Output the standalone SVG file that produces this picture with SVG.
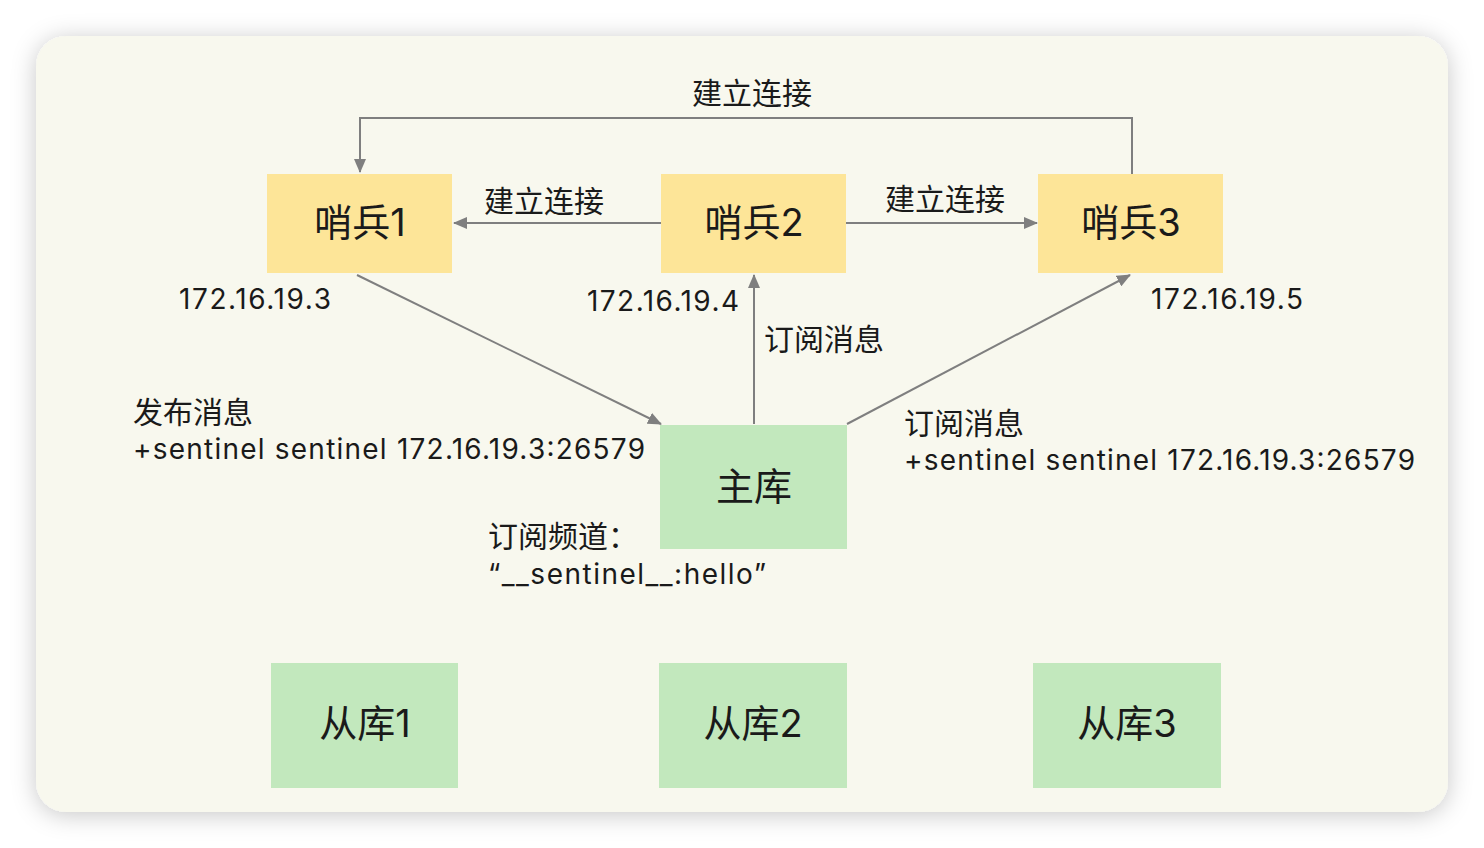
<svg xmlns="http://www.w3.org/2000/svg" width="1484" height="848" viewBox="0 0 1484 848">
<defs>
<filter id="sh" x="-10%" y="-10%" width="120%" height="120%">
<feDropShadow dx="0" dy="3" stdDeviation="12" flood-color="#000" flood-opacity="0.22"/>
</filter>
<marker id="ah" markerUnits="userSpaceOnUse" markerWidth="14" markerHeight="12" refX="13" refY="6" orient="auto">
<path d="M0,0 L14,6 L0,12 Z" fill="#7f7f7f"/>
</marker>
<style>
.sen{fill:#fde598}
.db{fill:#c2e8bd}
.nl{font-family:"Inter","Noto Sans CJK SC",sans-serif;font-size:38px;fill:#1a1a1a;text-anchor:middle}
.t{font-family:"Inter","Noto Sans CJK SC",sans-serif;font-size:28px;fill:#1a1a1a}
.z{font-family:"Noto Sans CJK SC",sans-serif;font-size:30px;fill:#1a1a1a}
.c{fill:none;stroke:#7f7f7f;stroke-width:2;marker-end:url(#ah)}
</style>
</defs>
<rect x="36" y="36" width="1412" height="776" rx="30" fill="#f8f8ee" filter="url(#sh)"/>

<g id="sentinel1"><rect class="sen" x="267" y="174" width="185" height="99"/><text class="nl" x="360" y="236">哨兵1</text></g>
<g id="sentinel2"><rect class="sen" x="661" y="174" width="185" height="99"/><text class="nl" x="754" y="236">哨兵2</text></g>
<g id="sentinel3"><rect class="sen" x="1038" y="174" width="185" height="99"/><text class="nl" x="1131" y="236">哨兵3</text></g>
<g id="master"><rect class="db" x="660" y="425" width="187" height="124"/><text class="nl" x="754" y="500">主库</text></g>
<g id="slave1"><rect class="db" x="271" y="663" width="187" height="125"/><text class="nl" x="365" y="737">从库1</text></g>
<g id="slave2"><rect class="db" x="659" y="663" width="188" height="125"/><text class="nl" x="753" y="737">从库2</text></g>
<g id="slave3"><rect class="db" x="1033" y="663" width="188" height="125"/><text class="nl" x="1127" y="737">从库3</text></g>

<g id="connectors">
<path class="c" d="M1132,174 L1132,118 L360,118 L360,172"/>
<path class="c" d="M661,223 L454,223"/>
<path class="c" d="M846,223 L1037,223"/>
<path class="c" d="M357,275 L661,424"/>
<path class="c" d="M754,424 L754,275"/>
<path class="c" d="M847,424 L1130,275"/>
</g>

<g id="labels">
<text class="z" x="692" y="104">建立连接</text>
<text class="z" x="484" y="212">建立连接</text>
<text class="z" x="885" y="210">建立连接</text>
<text class="t" x="179" y="309" textLength="152">172.16.19.3</text>
<text class="t" x="587" y="311" textLength="152">172.16.19.4</text>
<text class="t" x="1151" y="309" textLength="152">172.16.19.5</text>
<text class="z" x="764" y="350">订阅消息</text>
<text class="z" x="133" y="423">发布消息</text>
<text class="t" x="133" y="459" textLength="512">+sentinel sentinel 172.16.19.3:26579</text>
<text class="z" x="904" y="434">订阅消息</text>
<text class="t" x="904" y="470" textLength="511">+sentinel sentinel 172.16.19.3:26579</text>
<text class="z" x="488" y="547">订阅频道：</text>
<text class="t" x="488" y="584" textLength="278">“__sentinel__:hello”</text>
</g>
</svg>
